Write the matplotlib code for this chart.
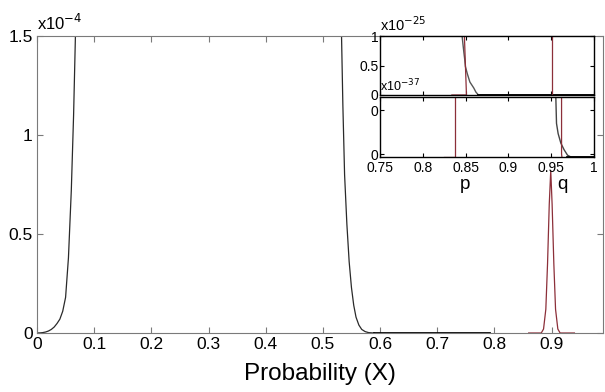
import matplotlib

matplotlib.use("Agg")
import matplotlib.pyplot as plt

plt.rcParams["font.family"] = ["Liberation Sans", "DejaVu Sans"]

# main panel, values in units of 1e-4
hump_x = [0.0, 0.005, 0.01, 0.015, 0.02, 0.025, 0.03, 0.035, 0.04, 0.045, 0.05,
          0.055, 0.06, 0.064, 0.068,
          0.532, 0.535, 0.538, 0.542, 0.546, 0.550, 0.554, 0.558, 0.563, 0.568,
          0.574, 0.580, 0.590]
hump_y = [0.0, 0.0005, 0.002, 0.005, 0.01, 0.018, 0.03, 0.048, 0.07, 0.11, 0.18,
          0.38, 0.72, 1.1, 1.6,
          1.6, 1.15, 0.8, 0.55, 0.36, 0.23, 0.14, 0.08, 0.04, 0.018,
          0.007, 0.002, 0.0]
tail_x = [0.59, 0.79]
tail_y = [0.0, 0.0]
peak_x = [0.86, 0.882, 0.886, 0.890, 0.893, 0.896, 0.8986, 0.901, 0.904, 0.907, 0.911, 0.915, 0.94]
peak_y = [0.0, 0.0, 0.02, 0.12, 0.35, 0.65, 0.82, 0.65, 0.35, 0.12, 0.02, 0.0, 0.0]

# upper inset, units of 1e-25
up_black_x = [0.8459, 0.847, 0.848, 0.849, 0.8498, 0.852, 0.855, 0.8595, 0.862, 0.865, 1.0]
up_black_y = [1.0, 0.85, 0.72, 0.6, 0.48, 0.36, 0.22, 0.12, 0.05, 0.0, 0.0]
up_red1_x = [0.834, 0.851, 0.8486]
up_red1_y = [0.0, 0.0, 1.0]
up_red2_x = [0.9504, 0.9504]
up_red2_y = [0.0, 1.0]

# lower inset, units of 1e-37
lo_black_x = [0.9554, 0.9562, 0.9581, 0.9613, 0.9651, 0.9691, 0.973, 1.0]
lo_black_y = [1.0, 0.56, 0.39, 0.23, 0.12, 0.03, 0.0, 0.0]
lo_red1_x = [0.8243, 0.838, 0.838]
lo_red1_y = [0.0, 0.0, 1.0]
lo_red2_x = [0.9621, 0.9621, 0.9625]
lo_red2_y = [1.0, 0.05, 0.0]

main_xticks = [0, 0.1, 0.2, 0.3, 0.4, 0.5, 0.6, 0.7, 0.8, 0.9]
main_yticks = [0, 0.5, 1, 1.5]
inset_xticks = [0.75, 0.8, 0.85, 0.9, 0.95, 1.0]
inset_xlabels = ["0.75", "0.8", "0.85", "0.9", "0.95", "1"]

RED = "#8c2f39"
GRAY = "#7a7a7a"

fig = plt.figure(figsize=(6.05, 3.92), dpi=100)
W, H = 605, 392


def px_axes(left, top, right, bottom):
    return fig.add_axes([left / W, 1 - bottom / H, (right - left) / W, (bottom - top) / H])


ax = px_axes(37, 36, 603, 333)
ax.plot(hump_x, hump_y, color="#2a2a2a", lw=0.9)
ax.plot(tail_x, tail_y, color="black", lw=2.0)
ax.plot(peak_x, peak_y, color=RED, lw=0.9)
ax.set_xlim(0, 0.99)
ax.set_ylim(0, 1.5)
ax.set_xticks(main_xticks)
ax.set_xticklabels([f"{t:g}" for t in main_xticks])
ax.set_yticks(main_yticks)
ax.set_yticklabels([f"{t:g}" for t in main_yticks])
ax.tick_params(direction="in", top=True, right=True, length=4, color=GRAY,
               labelsize=12.5, pad=3)
for s in ax.spines.values():
    s.set_color(GRAY)
ax.set_xlabel("Probability (X)", fontsize=17.5, labelpad=8)
ax.text(0.0, 1.01, "x10$^{-4}$", transform=ax.transAxes, fontsize=12,
        ha="left", va="bottom")

# insets
ax_up = px_axes(380, 36, 594, 95)
ax_lo = px_axes(380, 97, 594, 157)

ax_up.plot(up_black_x, up_black_y, color="#555555", lw=1.0)
ax_up.plot([0.865, 1.0], [0, 0], color="black", lw=2.0)
ax_up.plot(up_red1_x, up_red1_y, color=RED, lw=0.9)
ax_up.plot(up_red2_x, up_red2_y, color=RED, lw=0.9)
ax_up.set_ylim(0, 1)
ax_up.set_yticks([0, 0.5, 1])
ax_up.set_yticklabels(["0", "0.5", "1"])

ax_lo.plot(lo_black_x, lo_black_y, color="#444444", lw=1.0)
ax_lo.plot([0.968, 1.0], [0, 0], color="black", lw=2.0)
ax_lo.plot(lo_red1_x, lo_red1_y, color=RED, lw=0.9)
ax_lo.plot(lo_red2_x, lo_red2_y, color=RED, lw=0.9)
ax_lo.set_ylim(0, 1)
ax_lo.set_yticks([0.05, 0.78])
ax_lo.set_yticklabels(["0", "0"])

for a in (ax_up, ax_lo):
    a.set_xlim(0.75, 1.0)
    a.set_xticks(inset_xticks)
    a.tick_params(direction="in", top=True, right=True, length=3, labelsize=10, pad=1)
    for s in a.spines.values():
        s.set_color("black")
        s.set_linewidth(1.0)
ax_up.set_xticklabels([])
ax_lo.set_xticklabels(inset_xlabels)
ax_lo.tick_params(axis="x", pad=3)

ax_up.text(0.0, 1.03, "x10$^{-25}$", transform=ax_up.transAxes, fontsize=10.5,
           ha="left", va="bottom")
ax_lo.text(0.0, 1.04, "x10$^{-37}$", transform=ax_lo.transAxes, fontsize=9,
           ha="left", va="bottom")
fig.text(465 / W, 1 - 184 / H, "p", fontsize=13.5, ha="center", va="center")
fig.text(562 / W, 1 - 184 / H, "q", fontsize=13.5, ha="center", va="center")

fig.savefig("out.png", dpi=100)
